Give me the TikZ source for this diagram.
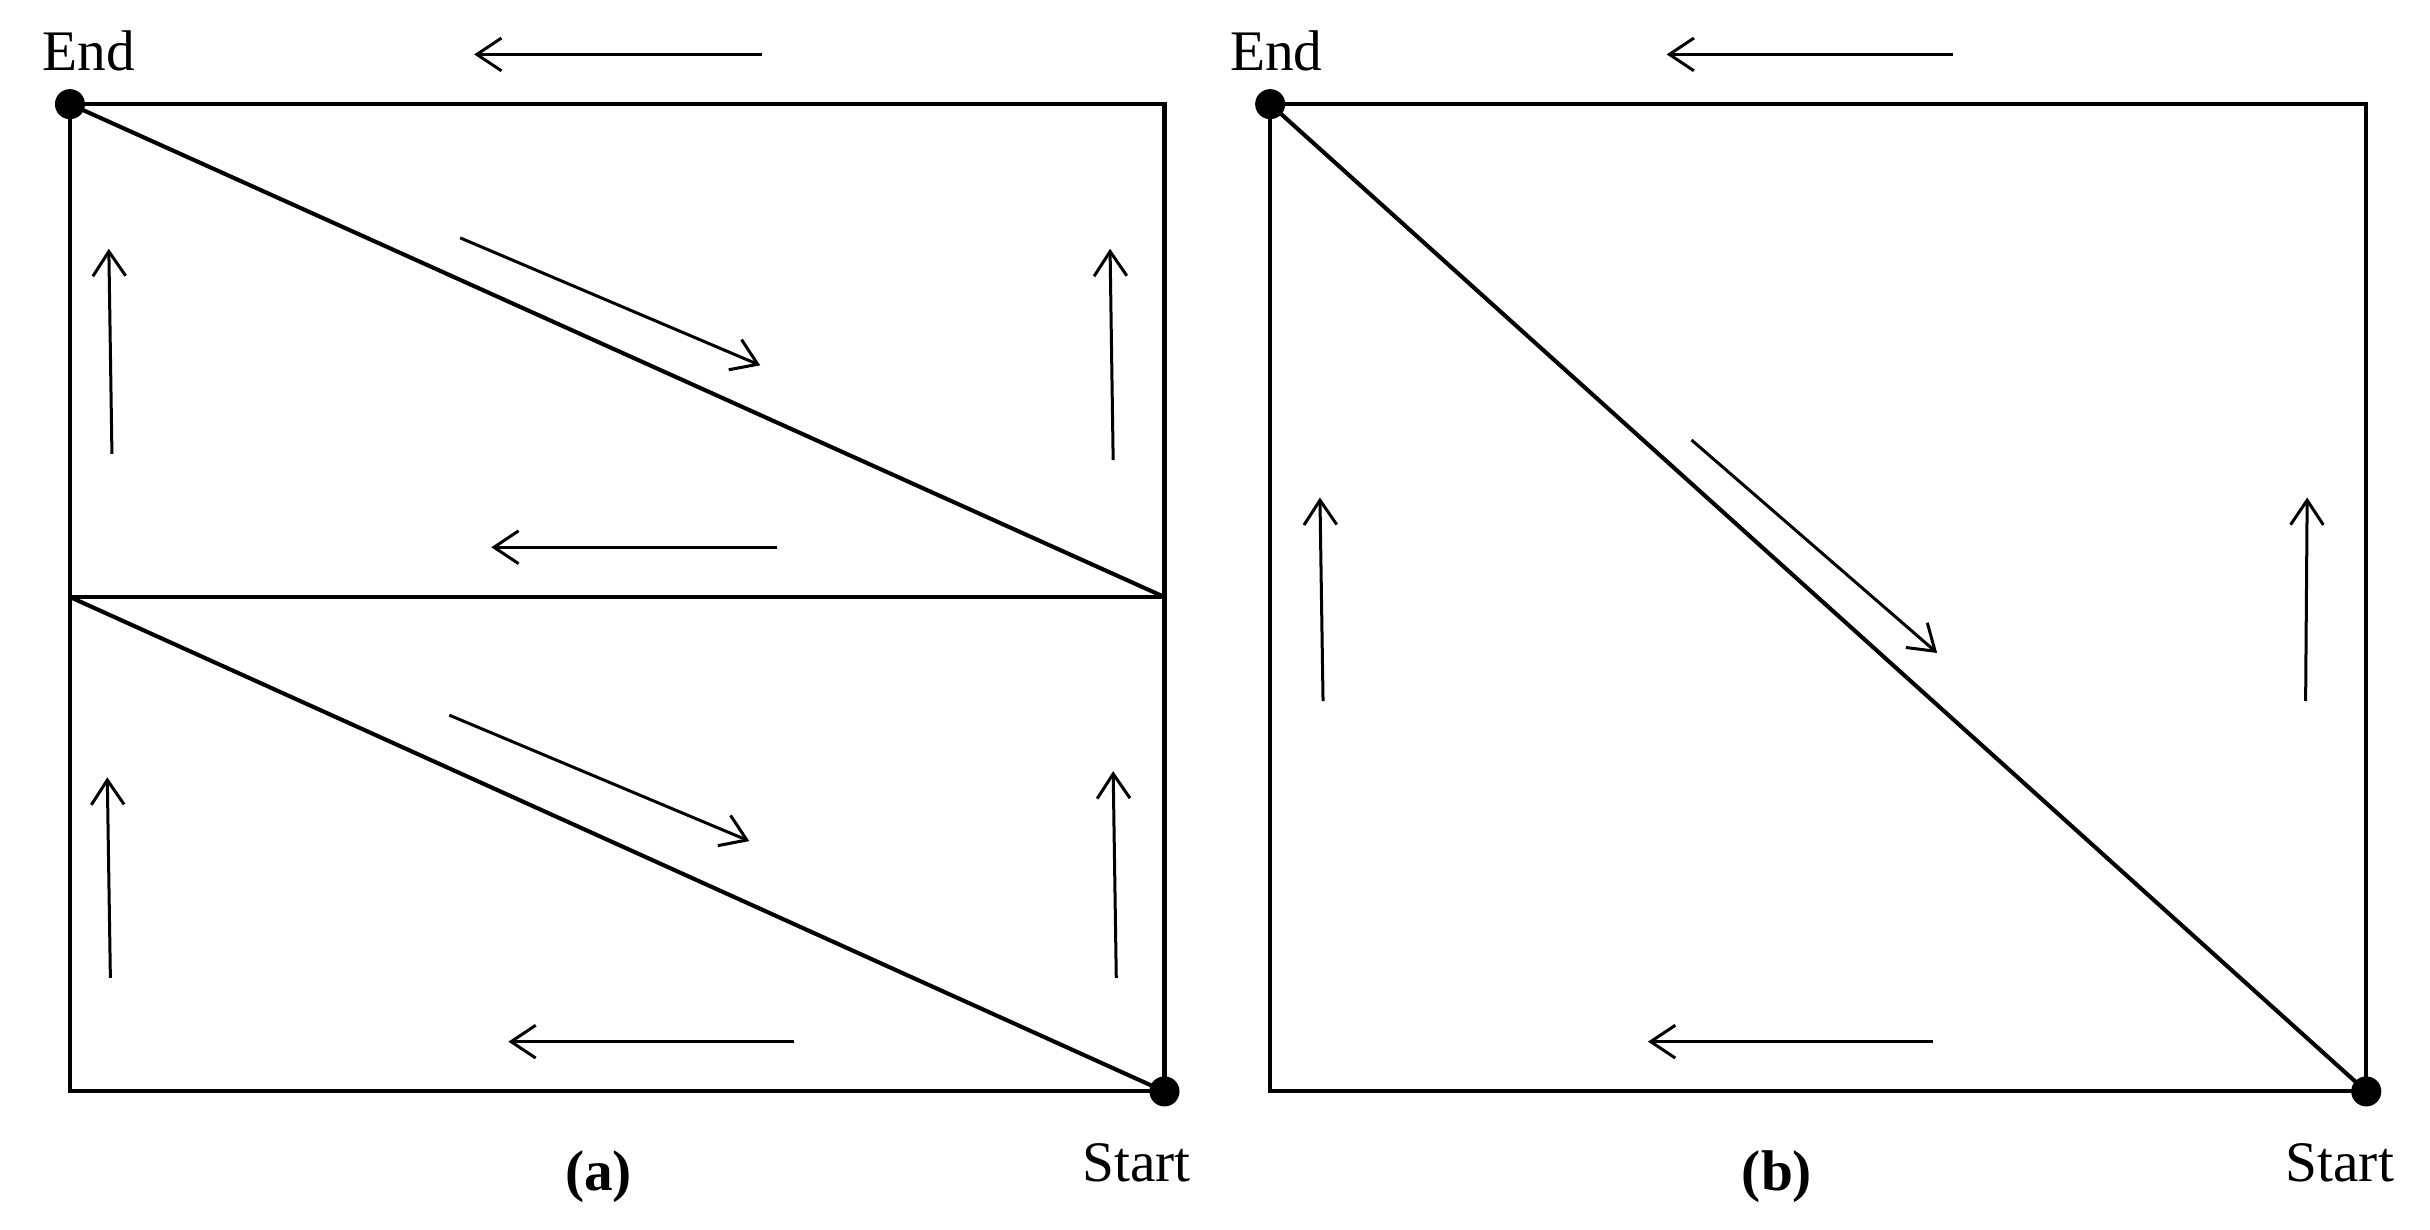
\documentclass[tikz,border=0pt]{standalone}
\usepackage{fontspec}
\setmainfont{Liberation Serif}
\usetikzlibrary{arrows.meta}
\begin{document}
\begin{tikzpicture}[x=0.02cm,y=-0.02cm,
  frame/.style={line width=1.5pt},
  dir/.style={line width=1.1pt,-{Straight Barb[length=9pt,width=12pt,line width=1.1pt]}},
  dot/.style={circle,fill=black,inner sep=0pt,minimum size=11pt},
  lab/.style={font=\fontsize{21}{24}\selectfont},
  captext/.style={font=\fontsize{21}{24}\selectfont\bfseries}]
\useasboundingbox (0,0) rectangle (1563,791);
% panel a
\coordinate (aTL) at (45,67); \coordinate (aTR) at (749,67);
\coordinate (aML) at (45,384); \coordinate (aMR) at (749,384);
\coordinate (aBL) at (45,702); \coordinate (aBR) at (749,702);
\draw[frame] (aTL) rectangle (aBR);
\draw[frame] (aML) -- (aMR);
\draw[frame] (aTL) -- (aMR);
\draw[frame] (aML) -- (aBR);
\node[dot] (aEnd) at (aTL) {};
\node[dot] (aStart) at (aBR) {};
\node[lab] (aEndL) at (57,33) {End};
\node[lab] (aStartL) at (731,748) {Start};
\node[captext] (aCap) at (385,757) {(a)};
\coordinate (a1s) at (490,35); \coordinate (a1e) at (305,35);
\coordinate (a2s) at (296,153); \coordinate (a2e) at (489,235);
\coordinate (a3s) at (72,292); \coordinate (a3e) at (70,160);
\coordinate (a4s) at (716,296); \coordinate (a4e) at (714,160);
\coordinate (a5s) at (500,352); \coordinate (a5e) at (316,352);
\coordinate (a6s) at (289,460); \coordinate (a6e) at (482,541);
\coordinate (a7s) at (71,629); \coordinate (a7e) at (69,500);
\coordinate (a8s) at (718,629); \coordinate (a8e) at (716,496);
\coordinate (a9s) at (511,670); \coordinate (a9e) at (327,670);
\foreach \i in {1,...,9} \draw[dir] (a\i s) -- (a\i e);
% panel b
\coordinate (bTL) at (817,67); \coordinate (bBR) at (1522,702);
\draw[frame] (bTL) rectangle (bBR);
\draw[frame] (bTL) -- (bBR);
\node[dot] (bEnd) at (bTL) {};
\node[dot] (bStart) at (bBR) {};
\node[lab] (bEndL) at (821,33) {End};
\node[lab] (bStartL) at (1505,748) {Start};
\node[captext] (bCap) at (1143,757) {(b)};
\coordinate (b1s) at (1256,35); \coordinate (b1e) at (1072,35);
\coordinate (b2s) at (1088,283); \coordinate (b2e) at (1246,420);
\coordinate (b3s) at (851,451); \coordinate (b3e) at (849,320);
\coordinate (b4s) at (1483,451); \coordinate (b4e) at (1484,320);
\coordinate (b5s) at (1243,670); \coordinate (b5e) at (1060,670);
\foreach \i in {1,...,5} \draw[dir] (b\i s) -- (b\i e);
\end{tikzpicture}
\end{document}
